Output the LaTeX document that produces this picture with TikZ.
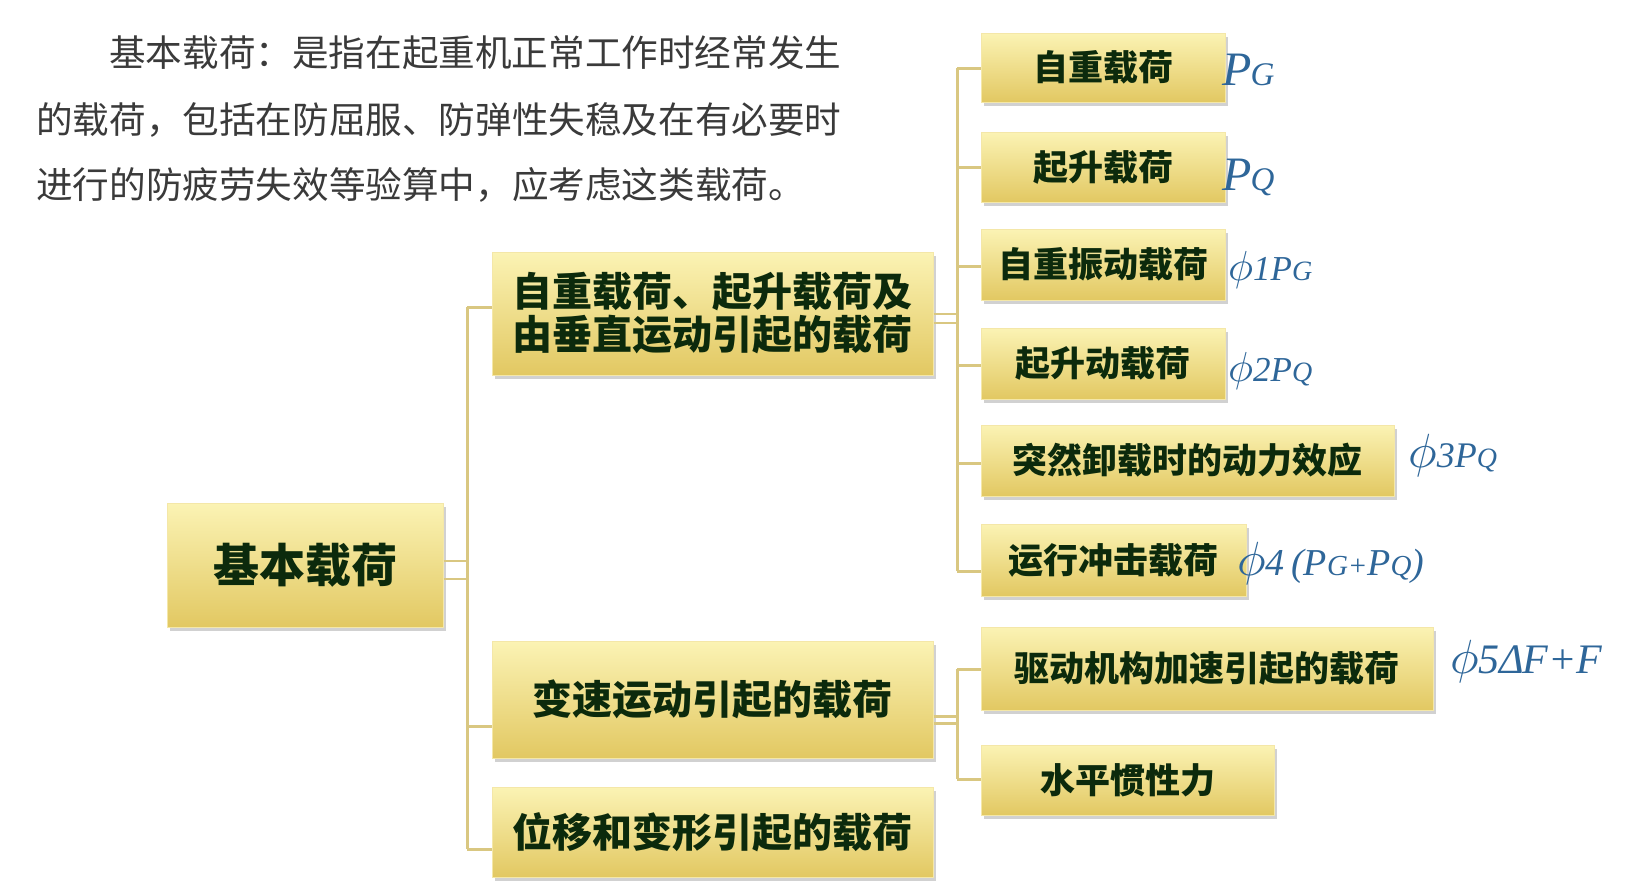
\documentclass[tikz,border=0pt]{standalone}
\usepackage{fontspec}
\newfontfamily\cjk{Noto Sans CJK SC}
\newfontfamily\tim{Liberation Serif}
\usetikzlibrary{shadows,calc}
\newcommand\myphi[1]{\scalebox{#1}{$\phi$}}
\definecolor{boxtop}{HTML}{FBF3B4}
\definecolor{boxmid}{HTML}{F3E08A}
\definecolor{boxbot}{HTML}{E2C862}
\definecolor{boxedge}{HTML}{F4E7A8}
\definecolor{boxtext}{HTML}{0C2A0C}
\definecolor{linec}{HTML}{D9C781}
\definecolor{labc}{HTML}{2E6699}
\definecolor{parac}{HTML}{3A3A3A}
\begin{document}
\begin{tikzpicture}[x=1pt,y=-1pt,
  box/.style={draw=boxedge, line width=1pt, top color=boxtop, middle color=boxmid, bottom color=boxbot,
    drop shadow={shadow xshift=3pt, shadow yshift=-4pt, fill=black!45, opacity=.4},
    inner sep=0pt, text=boxtext, align=center},
  rootf/.style={font=\cjk\bfseries\fontsize{46pt}{50pt}\selectfont},
  midf/.style={font=\cjk\bfseries\fontsize{40pt}{43pt}\selectfont},
  leaff/.style={font=\cjk\bfseries\fontsize{35pt}{38pt}\selectfont},
  conn/.style={draw=linec, line width=3pt},
  stub/.style={draw=linec, line width=2.5pt},
  para/.style={font=\cjk\fontsize{36.6pt}{40pt}\selectfont, text=parac, anchor=west, inner sep=0pt},
  lab/.style={text=labc, anchor=base west, inner sep=0pt}
]
\useasboundingbox (0,0) rectangle (1633,894);

% paragraph
\node[para] (p1) at (109,53) {基本载荷：是指在起重机正常工作时经常发生};
\node[para] (p2) at (36,120) {的载荷，包括在防屈服、防弹性失稳及在有必要时};
\node[para] (p3) at (36,185) {进行的防疲劳失效等验算中，应考虑这类载荷。};

% boxes
\node[box, rootf, minimum width=276pt, minimum height=124pt] (root) at (305,565) {基本载荷};
\node[box, midf, minimum width=441pt, minimum height=123pt] (m1) at (712.5,313.5) {自重载荷、起升载荷及\\由垂直运动引起的载荷};
\node[box, midf, minimum width=441pt, minimum height=117pt] (m2) at (712.5,699.5) {变速运动引起的载荷};
\node[box, midf, minimum width=441pt, minimum height=90pt] (m3) at (712.5,832) {位移和变形引起的载荷};

\node[box, leaff, minimum width=244pt, minimum height=69pt] (l1) at (1103,67.5) {自重载荷};
\node[box, leaff, minimum width=244pt, minimum height=70pt] (l2) at (1103,167) {起升载荷};
\node[box, leaff, minimum width=244pt, minimum height=71pt] (l3) at (1103,264.5) {自重振动载荷};
\node[box, leaff, minimum width=244pt, minimum height=71pt] (l4) at (1103,363.5) {起升动载荷};
\node[box, leaff, minimum width=413pt, minimum height=71pt] (l5) at (1187.5,460.5) {突然卸载时的动力效应};
\node[box, leaff, minimum width=265pt, minimum height=72pt] (l6) at (1113.5,560) {运行冲击载荷};
\node[box, leaff, minimum width=452pt, minimum height=83pt] (l7) at (1207,668.5) {驱动机构加速引起的载荷};
\node[box, leaff, minimum width=293pt, minimum height=70pt] (l8) at (1127.5,780) {水平惯性力};

% bus coordinates
\coordinate (a1) at (467,307);
\coordinate (a2) at (467,726);
\coordinate (a3) at (467,849);
\coordinate (b1) at (957,68);
\coordinate (b2) at (957,167);
\coordinate (b3) at (957,266);
\coordinate (b4) at (957,365);
\coordinate (b5) at (957,463);
\coordinate (b6) at (957,571);
\coordinate (c1) at (957,669);
\coordinate (c2) at (957,779);

% connectors level 1
\draw[conn] (a1) -- (a3);
\draw[conn] (a1) -- (a1 -| m1.west);
\draw[conn] (a2) -- (a2 -| m2.west);
\draw[conn] (a3) -- (a3 -| m3.west);
\draw[stub] ([yshift=4pt]root.east) -- ([yshift=4pt]root.east -| a1);
\draw[stub] ([yshift=-14pt]root.east) -- ([yshift=-14pt]root.east -| a1);

% connectors level 2 (m1)
\draw[conn] (b1) -- (b6);
\foreach \c/\n in {b1/l1,b2/l2,b3/l3,b4/l4,b5/l5,b6/l6}{
  \draw[conn] (\c) -- (\c -| \n.west);
}
\draw[stub] ([yshift=-0.5pt]m1.east) -- ([yshift=-0.5pt]m1.east -| b1);
\draw[stub] ([yshift=-9.5pt]m1.east) -- ([yshift=-9.5pt]m1.east -| b1);

% connectors level 2 (m2)
\draw[conn] (c1) -- (c2);
\draw[conn] (c1) -- (c1 -| l7.west);
\draw[conn] (c2) -- (c2 -| l8.west);
\draw[stub] ([yshift=-17pt]m2.east) -- ([yshift=-17pt]m2.east -| c1);
\draw[stub] ([yshift=-24pt]m2.east) -- ([yshift=-24pt]m2.east -| c1);

% labels
\node[lab] (t1) at (1222,85) {\tim\itshape\fontsize{48pt}{48pt}\selectfont P\kern-1pt\fontsize{33pt}{33pt}\selectfont G};
\node[lab] (t2) at (1222,190) {\tim\itshape\fontsize{48pt}{48pt}\selectfont P\kern-1pt\fontsize{33pt}{33pt}\selectfont Q};
\node[lab] (t3) at (1228,280) {\myphi{4.2}\tim\itshape\fontsize{35pt}{35pt}\selectfont 1P\fontsize{28pt}{28pt}\selectfont G};
\node[lab] (t4) at (1228,381) {\myphi{4.2}\tim\itshape\fontsize{35pt}{35pt}\selectfont 2P\fontsize{28pt}{28pt}\selectfont Q};
\node[lab] (t5) at (1408,467) {\myphi{4.8}\tim\itshape\fontsize{36pt}{36pt}\selectfont 3P\fontsize{28pt}{28pt}\selectfont Q};
\node[lab] (t6) at (1237,575) {\myphi{4.8}\tim\itshape\fontsize{38pt}{38pt}\selectfont 4\,(P\fontsize{29pt}{29pt}\selectfont G+\fontsize{38pt}{38pt}\selectfont P\fontsize{29pt}{29pt}\selectfont Q\fontsize{38pt}{38pt}\selectfont )};
\node[lab] (t7) at (1450,673) {\myphi{4.8}\tim\itshape\fontsize{42pt}{42pt}\selectfont 5Δ\kern-2pt F+F};
\end{tikzpicture}
\end{document}
